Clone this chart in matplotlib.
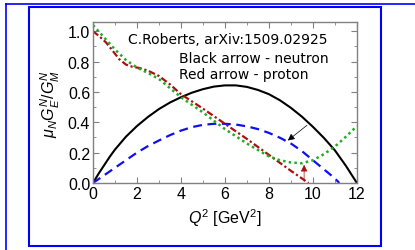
import numpy as np
import matplotlib; matplotlib.use("Agg")
import matplotlib.pyplot as plt
from matplotlib.lines import Line2D
from matplotlib.patches import Rectangle
from matplotlib.ticker import MultipleLocator

plt.rcParams["font.family"] = ["Liberation Sans", "DejaVu Sans"]
plt.rcParams["mathtext.fontset"] = "custom"
plt.rcParams["mathtext.it"] = "Liberation Sans:italic"
plt.rcParams["mathtext.rm"] = "Liberation Sans"

# black solid
q_black = [0, 0.25, 0.5, 0.75, 1, 1.5, 2, 2.5, 3, 3.5, 4, 4.5, 5, 5.5, 6, 6.5, 7, 7.5, 8, 8.5, 9, 9.5, 10, 10.5, 11, 11.5, 12]
v_black = [0, 0.06, 0.115, 0.17, 0.22, 0.305, 0.375, 0.435, 0.487, 0.53, 0.565, 0.595, 0.618, 0.635, 0.643, 0.643, 0.633, 0.613, 0.585, 0.545, 0.495, 0.437, 0.37, 0.297, 0.215, 0.113, 0.0]
# blue dashed
q_blue = [0, 0.5, 1, 1.5, 2, 2.5, 3, 3.5, 4, 4.5, 5, 5.5, 6, 6.5, 7, 7.5, 8, 8.5, 9, 9.5, 10, 10.5, 11, 11.2]
v_blue = [0, 0.05, 0.10, 0.15, 0.20, 0.243, 0.28, 0.315, 0.345, 0.368, 0.383, 0.39, 0.39, 0.385, 0.373, 0.355, 0.33, 0.298, 0.26, 0.21, 0.15, 0.09, 0.03, 0.0]
# dark red dash-dot
q_red = [0, 0.3, 0.6, 0.9, 1.2, 1.5, 1.8, 2.1, 2.5, 3, 3.5, 4, 5, 6, 7, 8, 9, 9.8]
v_red = [1.0, 0.965, 0.925, 0.87, 0.815, 0.78, 0.765, 0.758, 0.74, 0.705, 0.65, 0.585, 0.49, 0.39, 0.29, 0.185, 0.08, 0.0]
# green dotted
q_green = [0, 0.5, 1, 1.5, 2, 2.5, 3, 4, 5, 6, 7, 8, 8.5, 9, 9.5, 10, 10.5, 11, 11.5, 12]
v_green = [1.04, 0.96, 0.88, 0.81, 0.76, 0.725, 0.685, 0.565, 0.465, 0.355, 0.26, 0.175, 0.15, 0.135, 0.13, 0.15, 0.19, 0.24, 0.305, 0.375]

fig = plt.figure(figsize=(4.15, 2.51), dpi=100)
ax = fig.add_axes([0.224, 0.267, 0.636, 0.641])

ax.plot(q_black, v_black, color="black", lw=1.5)
ax.plot(q_blue, v_blue, color="#1010ee", lw=1.6, ls=(0, (4, 2.5)))
ax.plot(q_red, v_red, color="#aa1010", lw=1.6, ls=(0, (3, 1.2, 1, 1.2)))
ax.plot(q_green, v_green, color="#22aa22", lw=1.8, ls=(0, (1, 1.3)))

ax.annotate("", xy=(8.86, 0.28), xytext=(9.73, 0.38),
            arrowprops=dict(arrowstyle="-|>", color="black", lw=0.5,
                            mutation_scale=10, shrinkA=0, shrinkB=0))
ax.annotate("", xy=(9.6, 0.12), xytext=(9.6, 0.01),
            arrowprops=dict(arrowstyle="-|>", color="#aa1010", lw=0.5,
                            mutation_scale=10, shrinkA=0, shrinkB=0))

ax.text(0.133, 0.87, "C.Roberts, arXiv:1509.02925", transform=ax.transAxes,
        fontsize=10, family=["DejaVu Sans"])
ax.text(0.326, 0.75, "Black arrow - neutron", transform=ax.transAxes,
        fontsize=10, family=["DejaVu Sans"])
ax.text(0.326, 0.65, "Red arrow - proton", transform=ax.transAxes,
        fontsize=10, family=["DejaVu Sans"])

ax.set_xlim(0, 12)
ax.set_ylim(0, 1.06)
ax.xaxis.set_major_locator(MultipleLocator(2))
ax.xaxis.set_minor_locator(MultipleLocator(1))
ax.yaxis.set_major_locator(MultipleLocator(0.2))
ax.yaxis.set_minor_locator(MultipleLocator(0.1))
ax.yaxis.set_major_formatter(plt.FuncFormatter(lambda v, p: f"{v:.1f}"))
ax.tick_params(which="both", direction="in", top=True, right=True,
               color="#808080", labelsize=11.5, pad=2)
ax.tick_params(which="major", length=4)
ax.tick_params(which="minor", length=2.5)
for s in ax.spines.values():
    s.set_color("#808080")
    s.set_linewidth(1.0)

ax.set_xlabel(r"$Q^2$ [GeV$^2$]", fontsize=11.5, labelpad=4)
ax.set_ylabel(r"$\mu_N G_E^N/G_M^N$", fontsize=11.5, labelpad=4)

# blue frames
fig.add_artist(Rectangle((29 / 415, 1 - 247 / 251), (381 - 29) / 415, (247 - 8) / 251,
                         transform=fig.transFigure, fill=False, ec="#0000ff", lw=1.5))
fig.add_artist(Line2D([6 / 415, 6 / 415], [0, 1 - 5 / 251], transform=fig.transFigure,
                      color="#0000ff", lw=1.2))
fig.add_artist(Line2D([6 / 415, 1], [1 - 5 / 251, 1 - 5 / 251], transform=fig.transFigure,
                      color="#0000ff", lw=1.2))

fig.savefig("out.png", dpi=100)
